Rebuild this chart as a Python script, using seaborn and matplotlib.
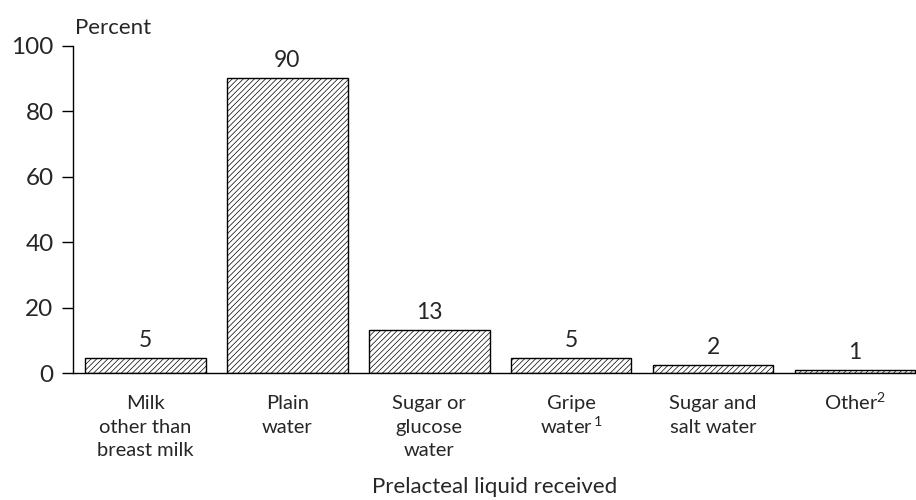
import matplotlib
matplotlib.use("Agg")
import matplotlib.pyplot as plt
import matplotlib.transforms as mtransforms
import seaborn as sns
import pandas as pd

categories = ["Milk\nother than\nbreast milk", "Plain\nwater", "Sugar or\nglucose\nwater",
              "Gripe\nwater$\\,^{1}$", "Sugar and\nsalt water", "Other$^{2}$"]
values = [4.6, 90.2, 13.1, 4.6, 2.4, 0.8]
value_labels = ["5", "90", "13", "5", "2", "1"]
y_ticks = [0, 20, 40, 60, 80, 100]

sns.set_style("white")
plt.rcParams["font.family"] = ["Lato", "DejaVu Sans"]
plt.rcParams["mathtext.fontset"] = "custom"
plt.rcParams["mathtext.rm"] = "Lato"
plt.rcParams["mathtext.it"] = "Lato"
plt.rcParams["mathtext.default"] = "rm"
plt.rcParams["hatch.linewidth"] = 0.5

df = pd.DataFrame({"cat": categories, "val": values})

fig = plt.figure(figsize=(9.16, 5.0), dpi=100)
ax = fig.add_axes([73 / 916, 127 / 500, 1 - 73 / 916, (373 - 46) / 500])
sns.barplot(data=df, x="cat", y="val", color="white", edgecolor="black",
            linewidth=1.0, width=0.85, saturation=1, ax=ax)
for p in ax.patches:
    p.set_hatch("//////")
    p.set_facecolor("white")
    p.set_edgecolor("black")

ax.bar_label(ax.containers[0], labels=value_labels, padding=5, fontsize=16.5)

ax.set_ylim(0, 100)
ax.set_xlim(-0.51, 5.43)
ax.set_yticks(y_ticks)
ax.tick_params(axis="y", left=True, length=8, width=1, labelsize=17.5, pad=6, color="black")
ax.tick_params(axis="x", bottom=False, length=0, labelsize=14.5, pad=16)
for lbl in ax.get_xticklabels():
    txt = lbl.get_text()
    if "$" in txt and "\n" in txt:
        lbl.set_linespacing(1.17)
    else:
        lbl.set_linespacing(1.45)
    if "$" in txt and "\n" not in txt:
        lbl.set_transform(lbl.get_transform() +
                          mtransforms.ScaledTranslation(0, 0.04, fig.dpi_scale_trans))
for s in ["top", "right"]:
    ax.spines[s].set_visible(False)
for s in ["left", "bottom"]:
    ax.spines[s].set_color("black")
    ax.spines[s].set_linewidth(1)
ax.set_ylabel("")
ax.set_xlabel("")
fig.text(494.5 / 916, 1 - 487 / 500, "Prelacteal liquid received", fontsize=16,
         ha="center", va="center")
ax.text(2 / 916, 1.025, "Percent", transform=ax.transAxes, fontsize=16,
        ha="left", va="bottom")

fig.savefig("out.png", dpi=100)
